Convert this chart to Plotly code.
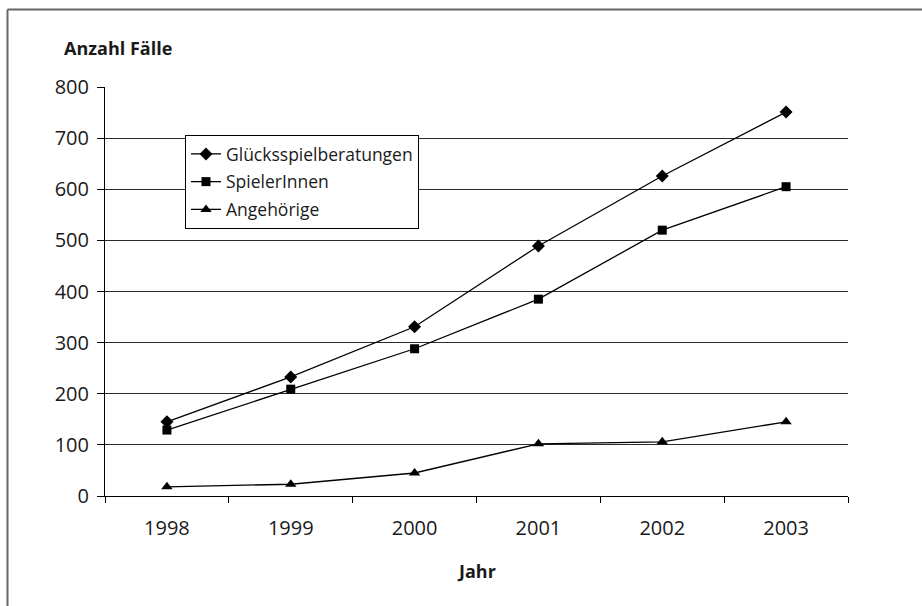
import plotly.graph_objects as go

years = ["1998", "1999", "2000", "2001", "2002", "2003"]
beratungen = [145, 233, 331, 489, 626, 751]
spieler = [129, 209, 288, 385, 520, 605]
angehoerige = [18, 23, 45, 102, 106, 145]
y_ticks = [0, 100, 200, 300, 400, 500, 600, 700, 800]

FONT = "Open Sans"

fig = go.Figure()
series = [
    ("Glücksspielberatungen", beratungen, "diamond", 10),
    ("SpielerInnen", spieler, "square", 9),
    ("Angehörige", angehoerige, "triangle-up", 10),
]
for i, (name, vals, sym, size) in enumerate(series):
    fig.add_trace(go.Scatter(
        x=years, y=vals, name=name, mode="lines+markers",
        legendgroup=f"g{i}",
        line=dict(color="black", width=1.3),
        marker=dict(symbol=sym, size=size, color="black"),
    ))

L, R, T, B = 105, 74, 87, 110
W, H = 922, 606
pw, ph = W - L - R, H - T - B

def px(x):
    return (x - L) / pw

def py(y):
    return (H - B - y) / ph

fig.update_layout(
    width=W, height=H,
    margin=dict(l=L, r=R, t=T, b=B, autoexpand=False),
    paper_bgcolor="white", plot_bgcolor="white",
    font=dict(family=FONT, color="#1a1a1a"),
    showlegend=True,
    legend=dict(
        x=px(185), y=py(135), xanchor="left", yanchor="top",
        bordercolor="black", borderwidth=1, bgcolor="white",
        font=dict(size=17.5, family=FONT, color="#1a1a1a"),
        itemwidth=30, tracegroupgap=2,
    ),
    xaxis=dict(
        type="category", tickson="boundaries", range=[-0.5, 5.5],
        showline=True, linecolor="black", linewidth=1,
        ticks="outside", ticklen=6, tickcolor="black",
        tickfont=dict(size=20, family=FONT),
        ticklabelstandoff=14,
        showgrid=False, zeroline=False,
    ),
    yaxis=dict(
        range=[0, 800], tickvals=y_ticks,
        showline=True, linecolor="black", linewidth=1,
        ticks="outside", ticklen=7, tickcolor="black",
        tickfont=dict(size=20, family=FONT),
        ticklabelstandoff=4,
        showgrid=True, gridcolor="#2a2a2a", gridwidth=1,
        zeroline=False,
    ),
    annotations=[
        dict(text="<b>Anzahl Fälle</b>", x=px(62), y=py(48), xref="paper", yref="paper",
             xanchor="left", yanchor="middle", showarrow=False,
             font=dict(size=18, family=FONT, color="#1a1a1a")),
        dict(text="<b>Jahr</b>", x=px(477), y=py(571), xref="paper", yref="paper",
             xanchor="center", yanchor="middle", showarrow=False,
             font=dict(size=18, family=FONT, color="#1a1a1a")),
    ],
    shapes=[
        dict(type="line", xref="paper", yref="paper", x0=px(7.5), x1=px(930), y0=py(9.5), y1=py(9.5),
             line=dict(color="#666666", width=2)),
        dict(type="line", xref="paper", yref="paper", x0=px(7.5), x1=px(7.5), y0=py(9.5), y1=py(620),
             line=dict(color="#666666", width=2)),
    ],
)

fig.write_html("out.html", config={"displayModeBar": False},
               post_script="document.body.style.margin='0';")
